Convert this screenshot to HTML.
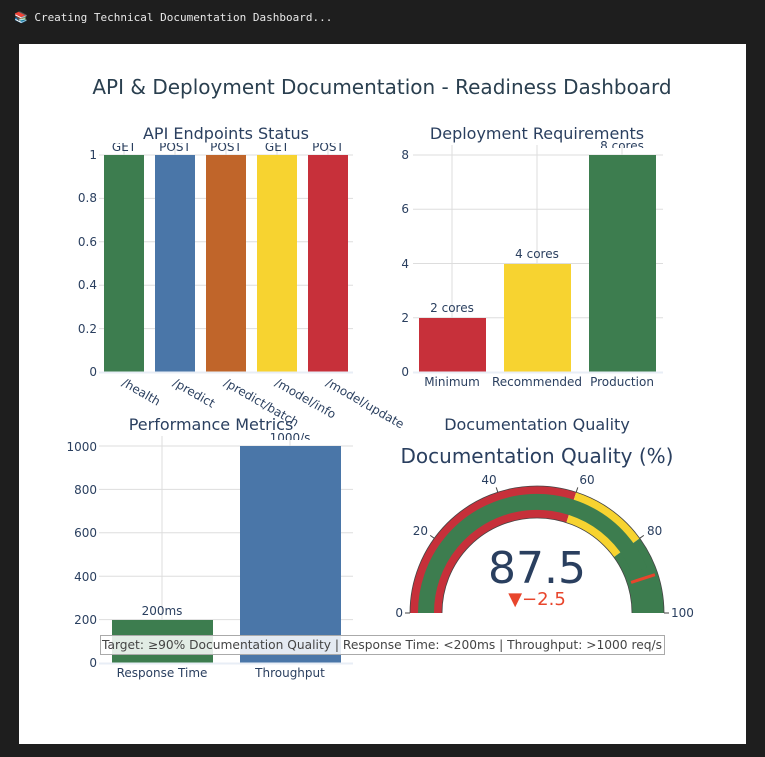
<!DOCTYPE html>
<html><head><meta charset="utf-8"><style>
html,body{margin:0;padding:0;background:#1e1e1e;width:765px;height:757px;overflow:hidden}
svg{display:block;font-family:"DejaVu Sans","Liberation Sans",sans-serif}
</style></head><body>
<svg width="765" height="757" viewBox="0 0 765 757">
<defs>
<clipPath id="c1"><rect x="90" y="143" width="280" height="30"/></clipPath>
<clipPath id="c2"><rect x="400" y="130" width="280" height="18"/></clipPath>
<clipPath id="c3"><rect x="90" y="421" width="280" height="19"/></clipPath>
</defs>
<rect width="765" height="757" fill="#1e1e1e"/>
<text x="14" y="21" font-family="DejaVu Sans Mono,Liberation Mono,monospace" font-size="11" fill="#e8e8e8">📚 Creating Technical Documentation Dashboard...</text>
<rect x="19" y="44" width="727" height="700" fill="#fff"/>
<text x="382" y="94" text-anchor="middle" font-size="20" fill="#2a3f4f">API &amp; Deployment Documentation - Readiness Dashboard</text>

<!-- Chart 1 -->
<g stroke="#ddd" stroke-width="1">
<line x1="99" x2="353" y1="155" y2="155"/><line x1="99" x2="353" y1="198.4" y2="198.4"/><line x1="99" x2="353" y1="241.8" y2="241.8"/><line x1="99" x2="353" y1="285.2" y2="285.2"/><line x1="99" x2="353" y1="328.6" y2="328.6"/>
<line x1="124" x2="124" y1="145" y2="155"/><line x1="175" x2="175" y1="145" y2="155"/><line x1="226" x2="226" y1="145" y2="155"/><line x1="277" x2="277" y1="145" y2="155"/><line x1="328" x2="328" y1="145" y2="155"/>
</g>
<rect x="104" y="155" width="40" height="217" fill="#3d7d4f"/>
<rect x="155" y="155" width="40" height="217" fill="#4a76a8"/>
<rect x="206" y="155" width="40" height="217" fill="#c0652a"/>
<rect x="257" y="155" width="40" height="217" fill="#f7d330"/>
<rect x="308" y="155" width="40" height="217" fill="#c7303a"/>
<line x1="99" x2="353" y1="372.5" y2="372.5" stroke="#e8eef6" stroke-width="2"/>
<g font-size="12" fill="#2a3f5f" text-anchor="end">
<text x="97" y="159">1</text><text x="97" y="202">0.8</text><text x="97" y="246">0.6</text><text x="97" y="289">0.4</text><text x="97" y="333">0.2</text><text x="97" y="376">0</text>
</g>
<g font-size="12" fill="#2a3f5f" text-anchor="middle" clip-path="url(#c1)">
<text x="124" y="151">GET</text><text x="175" y="151">POST</text><text x="226" y="151">POST</text><text x="277" y="151">GET</text><text x="328" y="151">POST</text>
</g>
<text x="226" y="139" text-anchor="middle" font-size="16" fill="#2a3f5f">API Endpoints Status</text>
<g font-size="12" fill="#2a3f5f">
<text transform="translate(121,385) rotate(30)">/health</text>
<text transform="translate(172,385) rotate(30)">/predict</text>
<text transform="translate(223,385) rotate(30)">/predict/batch</text>
<text transform="translate(274,385) rotate(30)">/model/info</text>
<text transform="translate(325,385) rotate(30)">/model/update</text>
</g>

<!-- Chart 2 -->
<g stroke="#ddd">
<line x1="413" x2="663" y1="155" y2="155"/><line x1="413" x2="663" y1="209.25" y2="209.25"/><line x1="413" x2="663" y1="263.5" y2="263.5"/><line x1="413" x2="663" y1="317.75" y2="317.75"/>
<line x1="452" x2="452" y1="145" y2="372"/><line x1="537" x2="537" y1="145" y2="372"/><line x1="622" x2="622" y1="145" y2="372"/>
</g>
<rect x="419" y="318" width="67" height="54" fill="#c7303a"/>
<rect x="504" y="264" width="67" height="108" fill="#f7d330"/>
<rect x="589" y="155" width="67" height="217" fill="#3d7d4f"/>
<line x1="413" x2="663" y1="372.5" y2="372.5" stroke="#e8eef6" stroke-width="2"/>
<g font-size="12" fill="#2a3f5f" text-anchor="end">
<text x="409" y="159">8</text><text x="409" y="213">6</text><text x="409" y="268">4</text><text x="409" y="322">2</text><text x="409" y="376">0</text>
</g>
<g font-size="12" fill="#2a3f5f" text-anchor="middle">
<text x="452" y="312">2 cores</text><text x="537" y="258">4 cores</text><text x="622" y="150" clip-path="url(#c2)">8 cores</text>
<text x="452" y="386">Minimum</text><text x="537" y="386">Recommended</text><text x="622" y="386">Production</text>
</g>
<text x="537" y="139" text-anchor="middle" font-size="16" fill="#2a3f5f">Deployment Requirements</text>

<!-- Chart 3 -->
<g stroke="#ddd">
<line x1="99" x2="353" y1="446" y2="446"/><line x1="99" x2="353" y1="489.4" y2="489.4"/><line x1="99" x2="353" y1="532.8" y2="532.8"/><line x1="99" x2="353" y1="576.2" y2="576.2"/><line x1="99" x2="353" y1="619.6" y2="619.6"/>
<line x1="162" x2="162" y1="436" y2="663"/><line x1="290" x2="290" y1="436" y2="663"/>
</g>
<rect x="112" y="620" width="101" height="43" fill="#3d7d4f"/>
<rect x="240" y="446" width="101" height="217" fill="#4a76a8"/>
<line x1="99" x2="353" y1="663.5" y2="663.5" stroke="#e8eef6" stroke-width="2"/>
<g font-size="12" fill="#2a3f5f" text-anchor="end">
<text x="97" y="451">1000</text><text x="97" y="494">800</text><text x="97" y="537">600</text><text x="97" y="581">400</text><text x="97" y="624">200</text><text x="97" y="667">0</text>
</g>
<g font-size="12" fill="#2a3f5f" text-anchor="middle">
<text x="162" y="615">200ms</text><text x="290" y="442" clip-path="url(#c3)">1000/s</text>
<text x="162" y="677">Response Time</text><text x="290" y="677">Throughput</text>
</g>
<text x="211" y="430" text-anchor="middle" font-size="16" fill="#2a3f5f">Performance Metrics</text>

<!-- Gauge -->
<text x="537" y="430" text-anchor="middle" font-size="16" fill="#2a3f5f">Documentation Quality</text>
<text x="537" y="463" text-anchor="middle" font-size="20" fill="#2a3f5f">Documentation Quality (%)</text>
<g fill="none" stroke-width="32">
<path d="M426,613 A111,111 0 0 1 571.3,507.4" stroke="#c7303a"/>
<path d="M571.3,507.4 A111,111 0 0 1 626.8,547.7" stroke="#f7d330"/>
<path d="M626.8,547.7 A111,111 0 0 1 648,613" stroke="#3d7d4f"/>
</g>
<path d="M426,613 A111,111 0 0 1 639.6,570.5" fill="none" stroke="#3d7d4f" stroke-width="16"/>
<path d="M410,613 A127,127 0 0 1 664,613 M442,613 A95,95 0 0 1 632,613" fill="none" stroke="#444" stroke-width="0.8"/>
<line x1="631.1" y1="582.4" x2="654.9" y2="574.7" stroke="#e8452c" stroke-width="3"/>
<g stroke="#444" stroke-width="1">
<line x1="405" y1="613" x2="410" y2="613"/><line x1="664" y1="613" x2="669" y2="613"/>
<line x1="434.3" y1="538.3" x2="430.2" y2="535.4"/><line x1="497.8" y1="492.2" x2="496.2" y2="487.4"/>
<line x1="576.2" y1="492.2" x2="577.8" y2="487.4"/><line x1="639.7" y1="538.3" x2="643.8" y2="535.4"/>
</g>
<g font-size="12" fill="#2a3f5f">
<text x="403" y="617" text-anchor="end">0</text><text x="671" y="617">100</text>
<text x="428" y="535" text-anchor="end">20</text><text x="489" y="484" text-anchor="middle">40</text>
<text x="587" y="484" text-anchor="middle">60</text><text x="647" y="535">80</text>
</g>
<text x="537" y="583" text-anchor="middle" font-size="44" fill="#2a3f5f">87.5</text>
<text x="537" y="605" text-anchor="middle" font-size="18" fill="#e8452c">▼−2.5</text>

<!-- annotation -->
<rect x="100.5" y="635.5" width="564" height="19" fill="#fff" fill-opacity="0.85" stroke="#aaa"/>
<text x="102" y="649" font-size="12" fill="#444" textLength="560" lengthAdjust="spacingAndGlyphs">Target: ≥90% Documentation Quality | Response Time: &lt;200ms | Throughput: &gt;1000 req/s</text>
</svg>
</body></html>
